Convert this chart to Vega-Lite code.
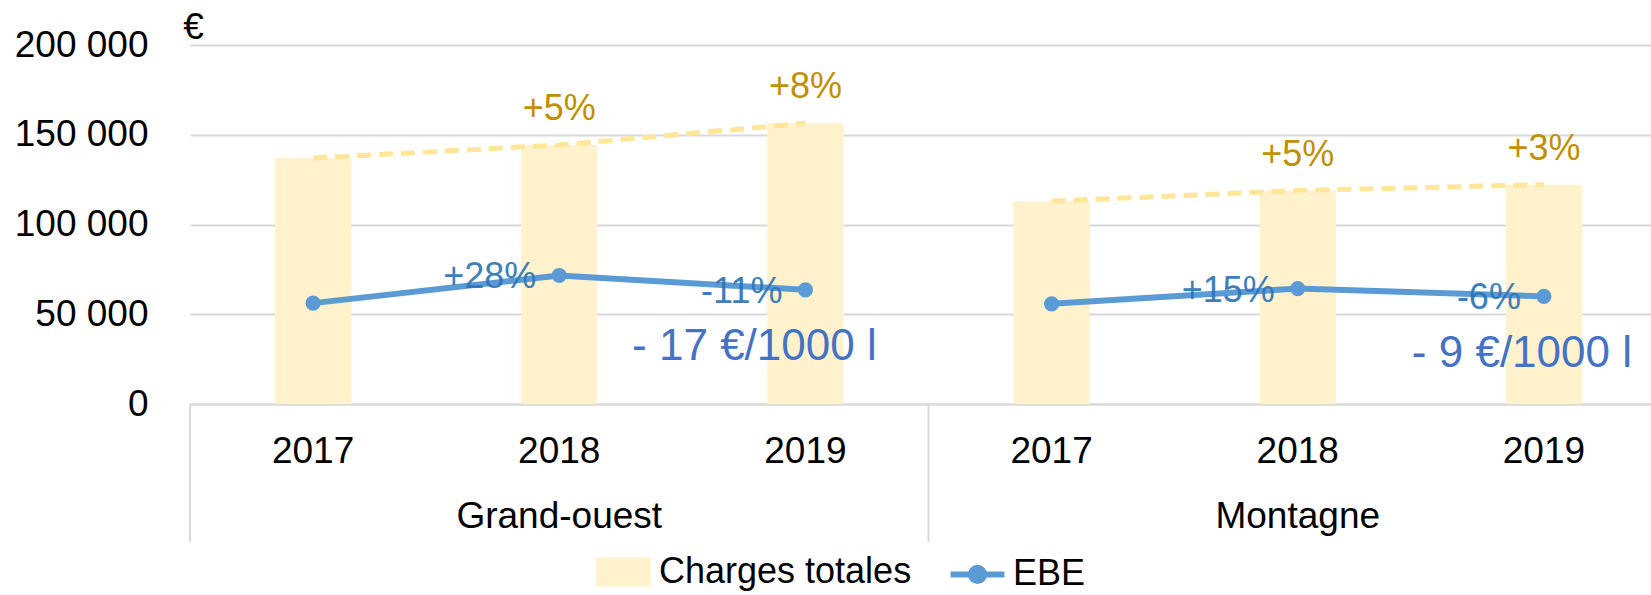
{
  "$schema": "https://vega.github.io/schema/vega-lite/v6.json",
  "width": 1461,
  "height": 359,
  "autosize": {"type": "none"},
  "padding": {"left": 190, "top": 45, "right": 0, "bottom": 191},
  "background": "white",
  "config": {
    "font": "Liberation Sans",
    "view": {"stroke": null},
    "axis": {"labelColor": "#000000", "titleColor": "#000000"}
  },
  "data": {
    "values": [
      {"key": "Grand-ouest 2017", "group": "Grand-ouest", "year": "2017", "charges": 137000, "ebe": 56200, "pc": "", "pe": ""},
      {"key": "Grand-ouest 2018", "group": "Grand-ouest", "year": "2018", "charges": 144300, "ebe": 71600, "pc": "+5%", "pe": "+28%"},
      {"key": "Grand-ouest 2019", "group": "Grand-ouest", "year": "2019", "charges": 156400, "ebe": 63600, "pc": "+8%", "pe": "-11%"},
      {"key": "Montagne 2017", "group": "Montagne", "year": "2017", "charges": 113000, "ebe": 55800, "pc": "", "pe": ""},
      {"key": "Montagne 2018", "group": "Montagne", "year": "2018", "charges": 118900, "ebe": 64300, "pc": "+5%", "pe": "+15%"},
      {"key": "Montagne 2019", "group": "Montagne", "year": "2019", "charges": 122200, "ebe": 60000, "pc": "+3%", "pe": "-6%"}
    ]
  },
  "encoding": {
    "x": {
      "field": "key",
      "type": "nominal",
      "sort": null,
      "scale": {"range": [0, 1477], "paddingInner": 0, "paddingOuter": 0},
      "axis": {
        "title": null,
        "labelExpr": "slice(datum.label, -4)",
        "labelAngle": 0,
        "labelFontSize": 37,
        "labelBaseline": "alphabetic",
        "labelPadding": 58,
        "ticks": false,
        "tickSize": 0,
        "grid": false,
        "domainColor": "#D9D9D9",
        "domainWidth": 2
      }
    }
  },
  "layer": [
    {
      "mark": {"type": "bar", "width": {"band": 0.31}},
      "encoding": {
        "y": {
          "field": "charges",
          "type": "quantitative",
          "scale": {"domain": [0, 200000], "nice": false},
          "axis": {
            "values": [0, 50000, 100000, 150000, 200000],
            "labelExpr": "replace(format(datum.value, ','), ',', ' ')",
            "labelFontSize": 37,
            "labelPadding": 42,
            "labelBaseline": "middle",
            "ticks": false,
            "tickSize": 0,
            "domain": false,
            "gridColor": "#D9D9D9",
            "gridWidth": 2,
            "title": "€",
            "titleAngle": 0,
            "titleFontSize": 37,
            "titleFontWeight": "normal",
            "titleX": 3,
            "titleY": -18,
            "titleAlign": "center",
            "titleBaseline": "middle"
          }
        },
        "color": {
          "datum": "Charges totales",
          "scale": {"domain": ["Charges totales", "EBE"], "range": ["#FFF2CC", "#5B9BD5"]},
          "legend": {
            "orient": "none",
            "legendX": 406,
            "legendY": 499,
            "direction": "horizontal",
            "title": null,
            "padding": 0,
            "symbolSize": 2401,
            "labelFontSize": 36,
            "labelColor": "#000000",
            "labelLimit": 500,
            "labelOffset": 8,
            "columnPadding": 26,
            "encode": {
              "symbols": {
                "update": {
                  "shape": {"signal": "datum.value === 'EBE' ? 'M-1.1,0H1.1M-0.27,0A0.27,0.27 0 1,0 0.27,0A0.27,0.27 0 1,0 -0.27,0Z' : 'M-1,-0.47H1V0.47H-1Z'"},
                  "fill": {"signal": "datum.value === 'EBE' ? '#5B9BD5' : '#FFF2CC'"},
                  "stroke": {"signal": "datum.value === 'EBE' ? '#5B9BD5' : 'transparent'"},
                  "strokeWidth": {"value": 6},
                  "opacity": {"value": 1},
                  "fillOpacity": {"value": 1}
                }
              }
            }
          }
        }
      }
    },
    {
      "mark": {"type": "line", "color": "#FFE699", "strokeWidth": 5, "strokeDash": [14, 8]},
      "encoding": {
        "y": {"field": "charges", "type": "quantitative"},
        "detail": {"field": "group"}
      }
    },
    {
      "transform": [{"filter": "datum.pc != ''"}],
      "mark": {"type": "text", "color": "#BF9000", "fontSize": 36, "dy": -36, "baseline": "middle", "align": "center"},
      "encoding": {
        "y": {"field": "charges", "type": "quantitative"},
        "text": {"field": "pc"}
      }
    },
    {
      "mark": {"type": "line", "strokeWidth": 6, "point": {"filled": true, "size": 230}},
      "encoding": {
        "y": {"field": "ebe", "type": "quantitative"},
        "detail": {"field": "group"},
        "color": {"datum": "EBE"}
      }
    },
    {
      "transform": [{"filter": "datum.pe != ''"}],
      "mark": {"type": "text", "color": "#2E75B6", "fontSize": 36, "dx": -23, "dy": 2, "baseline": "middle", "align": "right", "opacity": 0.92},
      "encoding": {
        "y": {"field": "ebe", "type": "quantitative"},
        "text": {"field": "pe"}
      }
    },
    {
      "transform": [{"filter": "datum.key == 'Grand-ouest 2019'"}],
      "mark": {"type": "text", "color": "#4472C4", "fontSize": 44, "dx": -51, "baseline": "middle", "align": "center"},
      "encoding": {
        "y": {"datum": 31900, "type": "quantitative"},
        "text": {"value": "- 17 €/1000 l"}
      }
    },
    {
      "transform": [{"filter": "datum.key == 'Montagne 2019'"}],
      "mark": {"type": "text", "color": "#4472C4", "fontSize": 44, "dx": -22, "baseline": "middle", "align": "center"},
      "encoding": {
        "y": {"datum": 28000, "type": "quantitative"},
        "text": {"value": "- 9 €/1000 l"}
      }
    },
    {
      "transform": [{"filter": "datum.year == '2017'"}],
      "mark": {"type": "rule", "color": "#D9D9D9", "strokeWidth": 2},
      "encoding": {
        "x": {"field": "key", "type": "nominal", "bandPosition": 0},
        "y": {"datum": 0, "type": "quantitative"},
        "y2": {"datum": -76800}
      }
    },
    {
      "transform": [{"filter": "datum.year == '2018'"}],
      "mark": {"type": "text", "fontSize": 37, "color": "#000000", "baseline": "alphabetic", "align": "center"},
      "encoding": {
        "y": {"datum": -68900, "type": "quantitative"},
        "text": {"field": "group"}
      }
    }
  ]
}
